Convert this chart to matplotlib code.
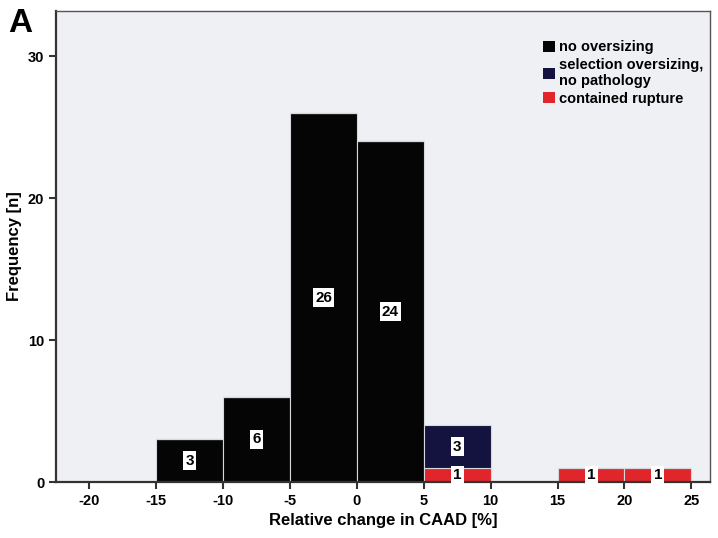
import matplotlib
matplotlib.use("Agg")
import matplotlib.pyplot as plt
from matplotlib.patches import Patch

plt.rcParams['font.family'] = ['Liberation Sans', 'DejaVu Sans']
plt.rcParams['font.weight'] = 'bold'
plt.rcParams['axes.unicode_minus'] = False

bin_left = [-15, -10, -5, 0, 5, 10, 15, 20]
bin_width = 5
no_oversizing = [3, 6, 26, 24, 0, 0, 0, 0]
contained_rupture = [0, 0, 0, 0, 1, 0, 1, 1]
selection_oversizing = [0, 0, 0, 0, 3, 0, 0, 0]

series = [
    ("no oversizing", no_oversizing, "#050505"),
    ("contained rupture", contained_rupture, "#e0262a"),
    ("selection oversizing,\nno pathology", selection_oversizing, "#14133f"),
]

fig = plt.figure(figsize=(7.18, 5.38), dpi=100)
ax = fig.add_axes([0.078, 0.104, 0.911, 0.876])
ax.set_facecolor("#eef0f4")

centers = [b + bin_width / 2 for b in bin_left]
bottom = [0] * len(bin_left)
for name, vals, color in series:
    ax.bar(centers, vals, width=bin_width, bottom=bottom, color=color,
           edgecolor="#d8d8dc", linewidth=0.8, zorder=2)
    for c, v, b in zip(centers, vals, bottom):
        if v > 0:
            ax.text(c, b + v / 2, str(v), ha="center", va="center",
                    fontsize=11, fontweight="bold", color="black", zorder=4,
                    bbox=dict(boxstyle="square,pad=0.15", fc="white", ec="none"))
    bottom = [b + v for b, v in zip(bottom, vals)]

ax.set_xlim(-22.5, 26.4)
ax.set_ylim(0, 33.2)
ax.set_xticks([-20, -15, -10, -5, 0, 5, 10, 15, 20, 25])
ax.set_yticks([0, 10, 20, 30])
ax.tick_params(axis="both", labelsize=10.5, width=1.5, length=5, color="#333333")
for lab in ax.get_xticklabels() + ax.get_yticklabels():
    lab.set_fontweight("bold")
for side in ["left", "bottom"]:
    ax.spines[side].set_linewidth(1.6)
    ax.spines[side].set_color("#333333")
for side in ["top", "right"]:
    ax.spines[side].set_linewidth(1.0)
    ax.spines[side].set_color("#555555")

ax.set_xlabel("Relative change in CAAD [%]", fontsize=12, fontweight="bold")
ax.set_ylabel("Frequency [n]", fontsize=12, fontweight="bold")

handles = [
    Patch(facecolor="#050505", label="no oversizing"),
    Patch(facecolor="#14133f", label="selection oversizing,\nno pathology"),
    Patch(facecolor="#e0262a", label="contained rupture"),
]
ax.legend(handles=handles, loc="upper right", bbox_to_anchor=(1.01, 0.965),
          frameon=False, handlelength=0.8, handleheight=0.8,
          handletextpad=0.3, labelspacing=0.25, prop={"weight": "bold", "size": 10.5})

fig.text(0.012, 0.94, "A", fontsize=24, fontweight="bold")

fig.savefig("out.png", dpi=100)
